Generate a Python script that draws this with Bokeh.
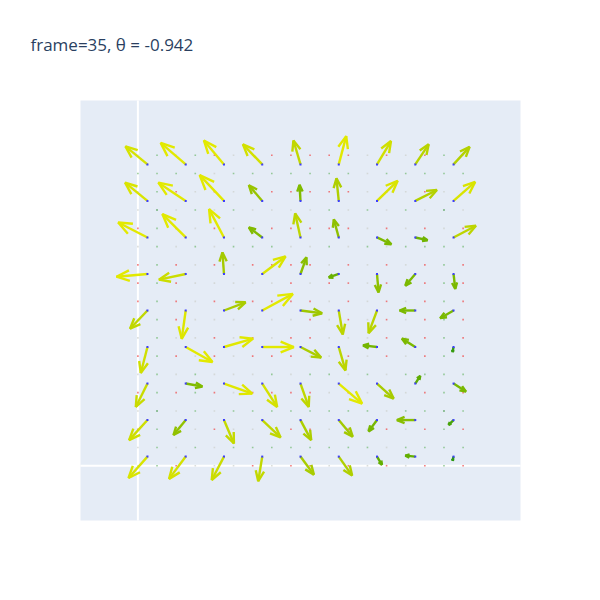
import numpy as np
from bokeh.plotting import figure
from bokeh.models import Range1d, Label
from bokeh.embed import file_html
from bokeh.resources import INLINE

title_text = "frame=35, θ =  -0.942"

# anchor grid (data units)
x_anchor = [0.5, 2.5, 4.5, 6.5, 8.5, 10.5, 12.5, 14.5, 16.5]
y_anchor = [16.5, 14.5, 12.5, 10.5, 8.5, 6.5, 4.5, 2.5, 0.5]

# vector components, one row per y_anchor (top to bottom)
u_rows = [
    [-1.15, -1.31, -1.05, -1.01, -0.37, 0.39, 0.73, 0.70, 0.84],
    [-1.17, -1.43, -1.27, -0.70, -0.05, -0.12, 1.08, 1.13, 1.13],
    [-1.53, -1.22, -0.78, -0.70, -0.28, -0.26, 0.75, 0.64, 1.17],
    [-1.62, -1.40, -0.08, 1.22, 0.31, -0.52, 0.08, -0.52, 0.09],
    [-0.91, -0.21, 1.13, 1.60, 1.13, 0.21, -0.44, -0.82, -0.70],
    [-0.35, 1.40, 1.52, 1.65, 1.08, 0.35, -0.73, -0.70, -0.05],
    [-0.61, 0.87, 1.48, 0.78, 0.43, 1.22, 0.87, 0.26, 0.65],
    [-0.96, -0.64, 0.52, 0.96, 0.56, 0.73, -0.44, -0.96, -0.26],
    [-0.99, -0.87, -0.64, -0.21, 0.70, 0.70, 0.26, -0.52, -0.05],
]
v_rows = [
    [0.99, 1.18, 1.31, 1.10, 1.31, 1.55, 1.28, 1.10, 0.96],
    [1.00, 1.00, 1.41, 0.86, 0.88, 1.24, 1.10, 0.60, 1.04],
    [0.82, 1.28, 1.55, 0.55, 1.31, 0.99, -0.37, -0.15, 0.64],
    [-0.15, -0.31, 1.18, 0.96, 0.91, -0.19, -1.01, -0.64, -0.82],
    [-1.00, -1.55, 0.45, 0.91, -0.15, -1.31, -1.24, 0.00, -0.42],
    [-1.42, -0.82, 0.46, 0.00, -0.58, -1.28, 0.09, 0.46, -0.27],
    [-1.28, -0.16, -0.55, -1.28, -1.28, -1.10, -0.82, 0.42, -0.44],
    [-1.10, -0.82, -1.28, -0.95, -1.10, -0.91, -0.62, 0.00, -0.26],
    [-1.17, -1.22, -1.28, -1.35, -0.99, -1.04, -0.45, 0.05, -0.22],
]

# small background dots on integer grid 0..17, rows from y=17 down to y=0
dot_x = list(range(18))
dot_y = list(range(17, -1, -1))
dot_rows = [
    "ngngrnnrr" + "rrrnrnrgn",
    "ggggngggg" + "gggnggggg",
    "ngrnrnnrr" + "rrrnrnrnn",
    "ndngngnnn" + "ngngngndn",
    "rgrnrnrrr" + "rrrnrnrnr",
    "ngngngggn" + "ngngngggg",
    "rgrnrnrrr" + "rnrnrnrgr",
    "rgrnnnnnr" + "nrrnrnrgr",
    "rgrnrnrrr" + "rnrnrnrgr",
    "ngrnnnnnn" + "rnrnrnrgr",
    "ngnnrnrnr" + "rnnnrnrgr",
    "rgrnrnrrr" + "nnrnrnrgr",
    "ngngnnngn" + "ggngngggg",
    "rgrgrnrrr" + "rnrnrnrgr",
    "ndngngggg" + "ggggnggdg",
    "rgnnrnnrr" + "rnrnrnrgr",
    "ngngngggg" + "ggggngggg",
    "ngrnnnrnr" + "rnrnrnrgr",
]
dot_palette = {"r": "#f05050", "g": "#78bc78", "n": "#cdd2cd", "d": "#2e8b2e"}

# axis ranges of the plotting area
X0, X1, Y0, Y1 = -3, 20, -3, 20
W, H = 600, 600
ML, MR, MT, MB = 80, 80, 100, 80
sx = (W - ML - MR) / (X1 - X0)
sy = (H - MT - MB) / (Y1 - Y0)

p = figure(width=W, height=H,
           x_range=Range1d(X0 - ML / sx, X1 + MR / sx),
           y_range=Range1d(Y0 - MB / sy, Y1 + MT / sy),
           output_backend="svg", toolbar_location=None,
           x_axis_type=None, y_axis_type=None,
           min_border=0, title=None)
p.background_fill_color = "white"
p.border_fill_color = "white"
p.outline_line_color = None

# plotting area background and zero lines
p.quad(left=[X0], right=[X1], bottom=[Y0], top=[Y1], fill_color="#e5ecf6", line_color=None)
p.segment(x0=[0, X0], y0=[Y0, 0], x1=[0, X1], y1=[Y1, 0], line_color="white", line_width=2)

# dots
dxs, dys, dcs = [], [], []
for yi, row in zip(dot_y, dot_rows):
    for xi, ch in zip(dot_x, row):
        dxs.append(xi)
        dys.append(yi)
        dcs.append(dot_palette[ch])
p.scatter(dxs, dys, marker="square", size=1.6, fill_color=dcs, line_color=None, alpha=0.75)

# colour ramp by magnitude
stops_m = [0.2, 0.55, 0.85, 1.1, 1.35, 1.6]
stops_c = [(40, 150, 20), (105, 178, 0), (125, 186, 0), (152, 196, 0), (192, 215, 0), (226, 233, 0)]

def ramp(m):
    r = np.interp(m, stops_m, [c[0] for c in stops_c])
    g = np.interp(m, stops_m, [c[1] for c in stops_c])
    b = np.interp(m, stops_m, [c[2] for c in stops_c])
    return "#%02x%02x%02x" % (int(r), int(g), int(b))

xs, ys, cols = [], [], []
ax, ay = [], []
scale, ang = 0.45, np.radians(22)
for yr, urow, vrow in zip(y_anchor, u_rows, v_rows):
    for xc, u, v in zip(x_anchor, urow, vrow):
        tx, ty = xc + u, yr + v
        m = np.hypot(u, v)
        c = ramp(m)
        # barbs computed in screen space
        pu, pv = u * sx, v * sy
        L = np.hypot(pu, pv) * scale
        th = np.arctan2(pv, pu)
        b1x = tx - L * np.cos(th + ang) / sx
        b1y = ty - L * np.sin(th + ang) / sy
        b2x = tx - L * np.cos(th - ang) / sx
        b2y = ty - L * np.sin(th - ang) / sy
        xs.append([xc, tx]); ys.append([yr, ty]); cols.append(c)
        xs.append([b1x, tx, b2x]); ys.append([b1y, ty, b2y]); cols.append(c)
        ax.append(xc); ay.append(yr)

p.multi_line(xs, ys, line_color=cols, line_width=2.4)
p.scatter(ax, ay, marker="square", size=2, fill_color="#3c3cff", line_color=None)

# title
p.add_layout(Label(x=X0 - (ML - 30) / sx, y=Y1 + (MT - 44) / sy, text=title_text,
                   text_font="Open Sans", text_font_size="17px", text_color="#2a3f5f",
                   text_baseline="middle", text_align="left"))

open("out.html", "w").write(file_html(p, INLINE))
